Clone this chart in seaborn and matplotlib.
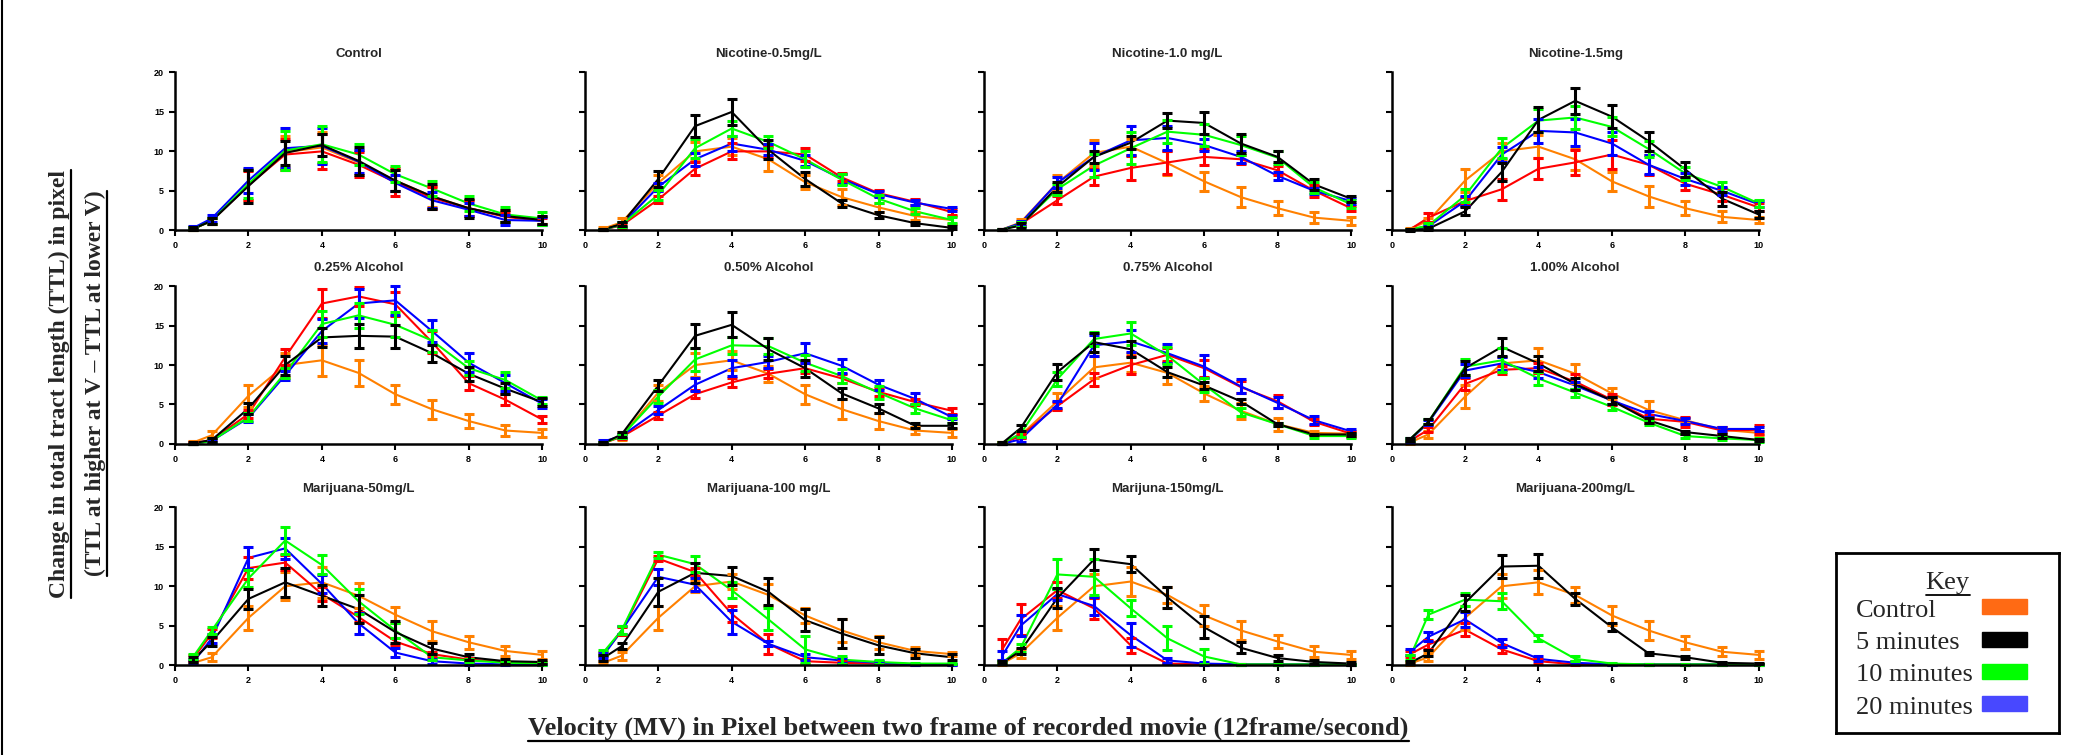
import matplotlib
matplotlib.use("Agg")
import pandas as pd
import matplotlib.pyplot as plt
import seaborn as sns
from matplotlib.lines import Line2D
from matplotlib.patches import Rectangle

# -------------------------------
# Data
# -------------------------------
velocity = [0.5, 1, 2, 3, 4, 5, 6, 7, 8, 9, 10]

panel_titles = ["Control", "Nicotine-0.5mg/L", "Nicotine-1.0 mg/L", "Nicotine-1.5mg",
                "0.25% Alcohol", "0.50% Alcohol", "0.75% Alcohol", "1.00% Alcohol",
                "Marijuana-50mg/L", "Marijuana-100 mg/L", "Marijuna-150mg/L", "Marijuana-200mg/L"]

# one row per panel (row-major), one value per velocity
control_mean = [
    [0.2, 1.2, 5.8, 9.9, 10.5, 8.6, 6.3, 4.3, 2.8, 1.8, 1.3],
    [0.2, 1.0, 6.0, 10.0, 10.6, 9.0, 6.1, 4.2, 2.9, 1.8, 1.3],
    [0.1, 1.0, 6.0, 9.8, 10.6, 8.5, 6.2, 4.2, 2.8, 1.6, 1.2],
    [0.2, 1.2, 6.3, 10.0, 10.6, 9.0, 6.2, 4.3, 2.8, 1.7, 1.3],
    [0.2, 1.1, 6.1, 10.0, 10.6, 9.0, 6.3, 4.4, 2.9, 1.7, 1.4],
    [0.1, 1.0, 6.5, 10.0, 10.6, 8.9, 6.3, 4.4, 2.9, 1.7, 1.4],
    [0.1, 1.1, 5.4, 9.7, 10.3, 9.0, 6.4, 4.2, 2.5, 1.4, 1.3],
    [0.2, 1.2, 6.0, 10.2, 10.6, 8.9, 6.4, 4.3, 3.0, 1.8, 1.4],
    [0.3, 1.0, 6.0, 10.0, 10.5, 8.8, 6.4, 4.3, 2.9, 1.8, 1.3],
    [0.3, 1.2, 6.0, 10.0, 10.6, 8.9, 6.3, 4.4, 2.9, 1.8, 1.4],
    [0.2, 1.5, 6.0, 10.0, 10.6, 8.9, 6.3, 4.4, 3.0, 1.7, 1.3],
    [0.2, 1.0, 6.0, 10.0, 10.5, 8.9, 6.3, 4.4, 2.9, 1.7, 1.3],
]
control_err = [
    [0.2, 0.4, 2.0, 2.0, 2.0, 1.6, 1.3, 1.3, 1.0, 0.8, 0.5],
    [0.2, 0.5, 1.0, 1.2, 1.1, 1.5, 0.9, 1.0, 0.6, 0.5, 0.5],
    [0.1, 0.4, 1.0, 1.7, 1.0, 1.5, 1.2, 1.3, 0.9, 0.7, 0.5],
    [0.1, 0.4, 1.5, 1.0, 1.5, 1.3, 1.2, 1.3, 0.9, 0.7, 0.4],
    [0.2, 0.5, 1.4, 1.5, 2.0, 1.6, 1.2, 1.2, 0.9, 0.7, 0.5],
    [0.1, 0.5, 1.0, 1.5, 1.2, 1.0, 1.2, 1.3, 1.0, 0.5, 0.5],
    [0.1, 0.4, 1.0, 1.4, 1.2, 1.4, 1.0, 1.0, 0.8, 0.3, 0.2],
    [0.2, 0.5, 1.5, 0.8, 1.6, 1.2, 0.7, 1.1, 0.3, 0.3, 0.3],
    [0.2, 0.5, 1.5, 1.8, 2.0, 1.6, 1.0, 1.3, 0.8, 0.6, 0.5],
    [0.2, 0.5, 1.5, 0.7, 1.0, 1.4, 1.0, 1.5, 0.8, 0.5, 0.3],
    [0.2, 0.6, 1.5, 1.5, 1.8, 1.0, 1.3, 1.2, 0.8, 0.7, 0.5],
    [0.2, 0.5, 1.5, 1.5, 1.5, 1.0, 1.2, 1.2, 0.8, 0.6, 0.5],
]

min5_mean = [
    [0.2, 1.2, 5.6, 9.8, 10.8, 8.8, 6.3, 4.3, 2.8, 1.8, 1.3],
    [0.1, 0.8, 6.5, 13.2, 15.0, 10.2, 6.5, 3.4, 1.9, 0.9, 0.3],
    [0.1, 0.6, 5.5, 9.3, 11.1, 13.9, 13.6, 11.0, 9.3, 5.8, 4.0],
    [0.0, 0.2, 2.4, 7.4, 14.0, 16.4, 14.4, 11.3, 7.7, 4.0, 2.0],
    [0.1, 0.5, 4.5, 10.0, 13.5, 13.7, 13.6, 11.5, 8.9, 7.0, 5.3],
    [0.1, 1.2, 7.4, 13.7, 15.1, 12.0, 9.6, 6.4, 4.5, 2.3, 2.3],
    [0.1, 2.0, 9.1, 12.9, 12.0, 9.1, 7.4, 5.4, 2.5, 1.2, 1.2],
    [0.6, 2.8, 9.6, 12.3, 10.2, 7.6, 5.5, 3.0, 1.5, 1.0, 0.5],
    [0.7, 3.0, 8.4, 10.5, 8.8, 7.1, 4.2, 2.1, 1.0, 0.5, 0.4],
    [0.9, 2.4, 9.3, 11.7, 11.3, 9.3, 5.7, 4.0, 2.5, 1.5, 1.0],
    [0.3, 1.8, 8.5, 13.4, 12.8, 8.6, 4.8, 2.2, 0.9, 0.4, 0.2],
    [0.3, 1.5, 7.9, 12.5, 12.6, 8.4, 4.8, 1.5, 1.0, 0.3, 0.2],
]
min5_err = [
    [0.2, 0.4, 2.1, 1.5, 1.4, 1.8, 1.3, 1.6, 1.2, 0.8, 0.5],
    [0.1, 0.3, 1.0, 1.4, 1.6, 1.2, 0.9, 0.5, 0.4, 0.2, 0.2],
    [0.1, 0.3, 0.6, 0.8, 0.8, 1.0, 1.4, 1.2, 0.7, 0.7, 0.4],
    [0.1, 0.2, 0.5, 1.1, 1.6, 1.6, 1.5, 1.2, 1.0, 0.9, 0.5],
    [0.1, 0.3, 0.7, 1.2, 1.2, 1.5, 1.5, 1.1, 0.9, 0.7, 0.5],
    [0.1, 0.3, 0.7, 1.5, 1.6, 1.4, 1.1, 0.7, 0.6, 0.3, 0.3],
    [0.1, 0.4, 1.0, 1.2, 1.0, 0.6, 0.4, 0.3, 0.2, 0.1, 0.2],
    [0.2, 0.3, 0.9, 1.1, 0.9, 0.8, 0.5, 0.3, 0.2, 0.3, 0.1],
    [0.3, 0.6, 1.3, 1.8, 1.3, 1.8, 1.4, 0.7, 0.4, 0.3, 0.3],
    [0.4, 0.4, 1.8, 1.3, 1.1, 1.7, 1.4, 1.8, 1.1, 0.6, 0.4],
    [0.2, 0.4, 1.3, 1.3, 1.0, 1.3, 1.4, 0.7, 0.4, 0.2, 0.2],
    [0.2, 0.4, 1.0, 1.5, 1.5, 0.8, 0.5, 0.2, 0.2, 0.1, 0.1],
]

min10_mean = [
    [0.2, 1.2, 5.9, 10.1, 10.9, 9.6, 7.1, 5.3, 3.4, 2.0, 1.5],
    [0.1, 0.7, 4.5, 10.4, 12.9, 11.2, 9.0, 6.4, 4.0, 2.4, 1.3],
    [0.1, 0.7, 5.2, 8.2, 10.4, 12.5, 12.1, 10.8, 9.2, 5.4, 3.3],
    [0.1, 0.6, 4.4, 10.4, 13.9, 14.3, 13.1, 10.3, 7.2, 5.5, 3.4],
    [0.0, 0.4, 3.4, 9.0, 15.2, 16.3, 15.1, 13.1, 9.6, 8.1, 5.5],
    [0.1, 1.0, 6.0, 10.7, 12.5, 12.4, 10.3, 8.6, 6.5, 4.5, 3.0],
    [0.1, 1.3, 8.2, 13.3, 14.0, 11.2, 7.5, 4.0, 2.5, 1.0, 1.0],
    [0.6, 2.8, 9.8, 10.6, 8.3, 6.5, 4.7, 2.7, 1.0, 0.7, 0.5],
    [1.1, 4.4, 11.0, 15.8, 12.7, 8.1, 4.4, 1.0, 0.6, 0.3, 0.2],
    [1.6, 4.4, 14.0, 12.8, 9.5, 5.8, 2.0, 0.7, 0.4, 0.2, 0.2],
    [0.3, 2.2, 11.5, 11.2, 7.2, 3.4, 1.1, 0.1, 0.1, 0.1, 0.1],
    [1.0, 6.4, 8.3, 8.1, 3.4, 0.8, 0.2, 0.1, 0.1, 0.1, 0.1],
]
min10_err = [
    [0.2, 0.4, 1.8, 2.5, 2.3, 1.3, 1.0, 1.0, 1.0, 1.0, 0.8],
    [0.1, 0.3, 0.6, 1.2, 1.0, 0.8, 1.0, 0.7, 0.5, 0.4, 0.4],
    [0.1, 0.3, 0.7, 1.5, 2.0, 1.5, 1.4, 1.2, 0.8, 0.7, 0.5],
    [0.1, 0.3, 0.8, 1.3, 1.5, 1.5, 1.2, 1.0, 0.8, 0.6, 0.5],
    [0.0, 0.3, 0.5, 0.6, 1.7, 1.6, 1.6, 1.4, 0.9, 1.0, 0.4],
    [0.1, 0.3, 0.8, 1.5, 1.1, 1.0, 1.0, 0.9, 0.8, 0.6, 0.3],
    [0.1, 0.4, 0.9, 0.9, 1.5, 1.1, 0.9, 0.5, 0.2, 0.2, 0.2],
    [0.2, 0.3, 1.0, 1.5, 0.8, 0.5, 0.4, 0.3, 0.2, 0.2, 0.2],
    [0.3, 0.4, 1.1, 1.7, 1.2, 1.6, 1.0, 0.4, 0.2, 0.2, 0.2],
    [0.3, 0.5, 0.4, 1.0, 1.0, 1.4, 1.7, 0.5, 0.2, 0.1, 0.1],
    [0.2, 0.5, 1.9, 2.3, 1.0, 1.5, 1.0, 0.1, 0.1, 0.1, 0.1],
    [0.3, 0.6, 0.8, 1.0, 0.4, 0.3, 0.1, 0.1, 0.1, 0.1, 0.1],
]

min20_mean = [
    [0.3, 1.5, 6.3, 10.4, 10.7, 8.7, 6.0, 3.8, 2.6, 1.3, 1.2],
    [0.1, 0.7, 5.5, 9.0, 11.0, 10.2, 8.8, 6.5, 4.6, 3.5, 2.7],
    [0.1, 0.9, 6.0, 9.3, 11.4, 11.7, 10.8, 9.3, 6.9, 5.0, 3.7],
    [0.1, 0.5, 3.7, 9.6, 12.6, 12.4, 11.0, 8.3, 6.5, 5.0, 3.3],
    [0.0, 0.4, 3.3, 8.7, 14.3, 17.8, 18.2, 14.3, 10.3, 7.7, 5.1],
    [0.3, 1.0, 4.3, 7.5, 9.6, 10.4, 11.5, 9.9, 7.5, 5.7, 3.4],
    [0.0, 0.6, 5.0, 12.5, 13.0, 11.5, 9.8, 7.3, 5.2, 3.0, 1.6],
    [0.5, 2.7, 9.3, 10.2, 9.1, 7.4, 5.5, 3.8, 2.9, 1.9, 1.9],
    [0.4, 3.4, 13.6, 14.8, 10.3, 5.3, 1.6, 0.5, 0.2, 0.1, 0.1],
    [1.2, 4.4, 11.2, 10.2, 5.5, 2.7, 1.0, 0.6, 0.3, 0.1, 0.1],
    [1.2, 5.0, 9.0, 7.5, 3.8, 0.6, 0.2, 0.1, 0.1, 0.1, 0.1],
    [1.7, 3.6, 5.8, 2.8, 0.8, 0.3, 0.1, 0.1, 0.1, 0.1, 0.1],
]
min20_err = [
    [0.2, 0.4, 1.6, 2.5, 2.3, 1.5, 1.0, 1.0, 0.8, 0.6, 0.5],
    [0.1, 0.3, 0.5, 0.8, 1.0, 0.7, 0.7, 0.6, 0.4, 0.3, 0.3],
    [0.1, 0.3, 0.7, 1.7, 1.8, 1.5, 0.8, 0.8, 0.5, 0.4, 0.4],
    [0.1, 0.2, 0.6, 1.0, 1.5, 1.7, 1.5, 1.2, 0.8, 0.5, 0.4],
    [0.0, 0.2, 0.5, 0.6, 1.5, 1.9, 1.8, 1.4, 1.2, 1.0, 0.6],
    [0.2, 0.3, 0.5, 0.8, 1.0, 0.8, 1.3, 0.9, 0.6, 0.7, 0.3],
    [0.0, 0.3, 0.5, 1.3, 1.4, 1.2, 1.5, 0.9, 0.7, 0.5, 0.3],
    [0.2, 0.3, 0.8, 0.8, 0.7, 0.4, 0.4, 0.4, 0.4, 0.3, 0.3],
    [0.3, 0.6, 1.4, 1.3, 1.1, 1.3, 0.6, 0.3, 0.2, 0.1, 0.1],
    [0.3, 0.5, 1.0, 0.8, 1.5, 0.3, 0.4, 0.3, 0.2, 0.1, 0.1],
    [0.6, 1.3, 0.7, 1.2, 1.5, 0.3, 0.2, 0.1, 0.1, 0.1, 0.1],
    [0.4, 0.6, 1.0, 0.5, 0.3, 0.2, 0.1, 0.1, 0.1, 0.1, 0.1],
]

# red series is drawn in every panel but has no entry in the key
red_mean = [
    [0.2, 1.2, 5.7, 9.6, 10.0, 8.3, 6.1, 4.1, 2.8, 1.7, 1.2],
    [0.1, 0.6, 3.9, 7.8, 10.0, 10.0, 9.6, 6.7, 4.7, 3.6, 2.3],
    [0.1, 0.8, 3.8, 6.8, 7.9, 8.6, 9.3, 9.0, 7.6, 5.0, 2.8],
    [0.1, 1.6, 3.7, 5.2, 7.8, 8.6, 9.6, 8.3, 5.9, 4.5, 2.9],
    [0.1, 0.5, 3.8, 11.0, 17.8, 18.7, 17.7, 12.9, 7.7, 5.6, 3.1],
    [0.1, 0.9, 3.6, 6.3, 7.8, 8.9, 9.6, 8.3, 6.6, 5.3, 4.2],
    [0.1, 1.0, 4.8, 8.2, 10.0, 11.3, 9.6, 7.2, 5.4, 2.8, 1.3],
    [0.4, 1.8, 7.6, 9.4, 9.6, 7.9, 5.6, 3.2, 2.8, 1.7, 1.8],
    [0.9, 4.0, 12.3, 13.0, 9.0, 6.1, 3.0, 1.4, 0.7, 0.4, 0.3],
    [1.4, 4.3, 13.5, 11.8, 6.5, 2.7, 0.5, 0.3, 0.2, 0.1, 0.1],
    [2.0, 5.8, 9.5, 7.2, 2.5, 0.2, 0.1, 0.1, 0.1, 0.1, 0.1],
    [1.4, 2.6, 4.5, 2.0, 0.5, 0.1, 0.1, 0.1, 0.1, 0.1, 0.1],
]
red_err = [
    [0.2, 0.4, 1.8, 2.0, 2.2, 1.6, 1.8, 1.4, 1.0, 0.6, 0.4],
    [0.1, 0.3, 0.5, 0.8, 1.0, 0.7, 0.8, 0.5, 0.4, 0.4, 0.4],
    [0.1, 0.3, 0.5, 1.0, 1.5, 1.5, 1.0, 0.6, 0.6, 0.8, 0.3],
    [0.1, 0.6, 0.5, 1.3, 1.3, 1.6, 1.8, 1.3, 0.8, 0.8, 0.5],
    [0.1, 0.2, 0.5, 1.0, 1.8, 1.2, 1.5, 1.4, 0.9, 0.7, 0.4],
    [0.1, 0.3, 0.4, 0.5, 0.6, 0.6, 0.6, 0.6, 0.5, 0.4, 0.4],
    [0.1, 0.3, 0.5, 0.8, 1.1, 0.8, 1.1, 0.8, 0.8, 0.4, 0.4],
    [0.2, 0.3, 0.8, 0.5, 0.6, 1.0, 0.7, 0.5, 0.6, 0.5, 0.6],
    [0.4, 0.6, 1.4, 0.9, 0.9, 0.6, 0.4, 0.3, 0.2, 0.1, 0.1],
    [0.3, 0.5, 0.3, 0.5, 1.0, 1.3, 0.3, 0.2, 0.1, 0.1, 0.1],
    [1.3, 2.0, 1.0, 1.3, 1.0, 0.1, 0.1, 0.1, 0.1, 0.1, 0.1],
    [0.4, 0.6, 0.8, 0.5, 0.3, 0.1, 0.1, 0.1, 0.1, 0.1, 0.1],
]

x_ticks = [0, 2, 4, 6, 8, 10]
y_ticks = [0, 5, 10, 15, 20]
key_labels = ["Control", "5 minutes", "10 minutes", "20 minutes"]

# -------------------------------
# Long table for seaborn
# -------------------------------
groups = ["Control", "5 minutes", "10 minutes", "20 minutes", "red (no key)"]
all_means = [control_mean, min5_mean, min10_mean, min20_mean, red_mean]
all_errs = [control_err, min5_err, min10_err, min20_err, red_err]

rows = []
for p, title in enumerate(panel_titles):
    for g, m, e in zip(groups, all_means, all_errs):
        for v, y, s in zip(velocity, m[p], e[p]):
            rows.append((p, g, v, y, s))
df = pd.DataFrame(rows, columns=["panel", "group", "velocity", "ttl", "sem"])

line_colors = {"Control": "#FF8000", "5 minutes": "#000000", "10 minutes": "#00FF00",
               "20 minutes": "#0000FF", "red (no key)": "#FF0000"}
key_colors = {"Control": "#FF6A14", "5 minutes": "#000000", "10 minutes": "#00FF00",
              "20 minutes": "#4848FF"}
draw_order = ["Control", "red (no key)", "20 minutes", "10 minutes", "5 minutes"]

# -------------------------------
# Figure
# -------------------------------
sns.set_style("ticks")
plt.rcParams["font.family"] = ["Liberation Sans", "DejaVu Sans"]
plt.rcParams["font.weight"] = "bold"

fig = plt.figure(figsize=(20.74, 7.55), dpi=100)

col_left = [0.0844, 0.282, 0.4744, 0.671]
row_bottom = [0.695, 0.412, 0.119]
ax_w, ax_h = 0.177, 0.209

for p, title in enumerate(panel_titles):
    r, c = divmod(p, 4)
    ax = fig.add_axes([col_left[c], row_bottom[r], ax_w, ax_h])
    sub = df[df["panel"] == p]
    sns.lineplot(data=sub, x="velocity", y="ttl", hue="group", hue_order=draw_order,
                 palette=line_colors, estimator=None, linewidth=1.5, legend=False,
                 ax=ax, clip_on=False)
    for g in draw_order:
        s = sub[sub["group"] == g]
        ax.errorbar(s["velocity"], s["ttl"], yerr=s["sem"], fmt="none",
                    ecolor=line_colors[g], elinewidth=2.2, capsize=3.3,
                    capthick=2.2, clip_on=False)
    ax.set_xlim(0, 10)
    ax.set_ylim(0, 20)
    ax.set_xticks(x_ticks)
    ax.set_yticks(y_ticks)
    ax.set_xlabel("")
    ax.set_ylabel("")
    ax.set_title(title, fontsize=9.5, fontweight="bold", pad=11)
    sns.despine(ax=ax)
    for side in ["left", "bottom"]:
        ax.spines[side].set_linewidth(1.8)
        ax.spines[side].set_color("black")
    ax.tick_params(direction="out", length=4, width=1.5, labelsize=6.5, pad=4,
                   colors="black", labelleft=(c == 0))

# axis titles (Times-like, bold, underlined)
serif = ["Liberation Serif", "DejaVu Serif"]
ylab1 = fig.text(0.0287, 0.492, "Change in total tract length (TTL) in pixel",
                 rotation=90, ha="center", va="center", family=serif,
                 fontsize=17, fontweight="bold")
ylab2 = fig.text(0.0460, 0.492, "(TTL at higher at V \u2013 TTL at lower V)",
                 rotation=90, ha="center", va="center", family=serif,
                 fontsize=17, fontweight="bold")
xlab = fig.text(0.467, 0.035,
                "Velocity (MV) in Pixel between two frame of recorded movie (12frame/second)",
                ha="center", va="center", family=serif, fontsize=19, fontweight="bold")

# key box
kax = fig.add_axes([0.8853, 0.0291, 0.1075, 0.2384])
kax.set_xlim(0, 1)
kax.set_ylim(0, 1)
kax.set_xticks([])
kax.set_yticks([])
for sp in kax.spines.values():
    sp.set_visible(True)
    sp.set_linewidth(2)
    sp.set_color("black")
key_title = kax.text(0.5, 0.835, "Key", ha="center", va="center", family=serif,
                     fontsize=19, fontweight="normal")
key_y = [0.68, 0.50, 0.32, 0.14]
for name, yy in zip(key_labels, key_y):
    kax.text(0.09, yy, name, ha="left", va="center", family=serif,
             fontsize=19, fontweight="normal")
    kax.add_patch(Rectangle((0.655, yy - 0.02), 0.2, 0.083,
                            color=key_colors[name], transform=kax.transAxes))

# left border line of the original figure
fig.add_artist(Line2D([0.0012, 0.0012], [0, 1], color="black", linewidth=1.5))

# underline the labels
fig.canvas.draw()
renderer = fig.canvas.get_renderer()
inv = fig.transFigure.inverted()


def underline(txt, vertical=False, lw=1.6):
    bb = txt.get_window_extent(renderer)
    if vertical:
        pts = inv.transform([(bb.x1 + 1, bb.y0), (bb.x1 + 1, bb.y1)])
    else:
        pts = inv.transform([(bb.x0, bb.y0 - 1), (bb.x1, bb.y0 - 1)])
    fig.add_artist(Line2D(pts[:, 0], pts[:, 1], color="black", linewidth=lw))


underline(ylab1, vertical=True)
underline(ylab2, vertical=True)
underline(xlab)
underline(key_title, lw=1.3)

fig.savefig("out.png", dpi=100)
